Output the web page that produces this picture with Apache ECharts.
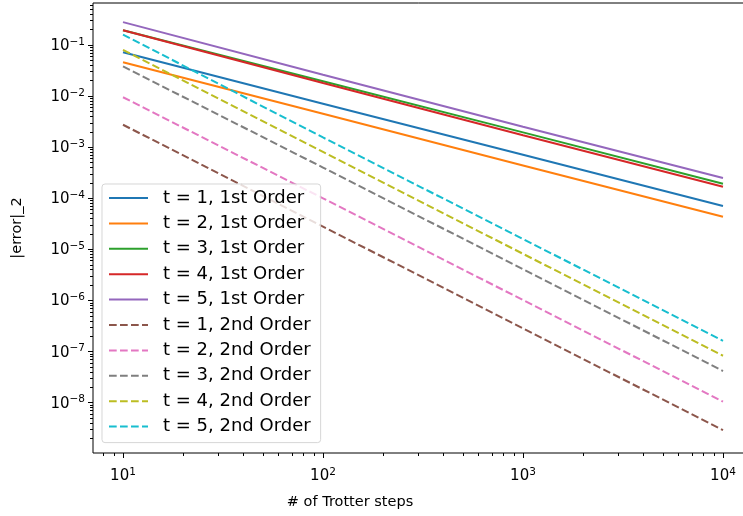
<!DOCTYPE html>
<html><head><meta charset="utf-8">
<script src="https://cdn.jsdelivr.net/npm/echarts@6/dist/echarts.min.js"></script>
<style>html,body{margin:0;padding:0;background:#fff}#c{width:743px;height:516px}</style>
</head><body><div id="c"></div>
<script>
// Trotter steps (x)
const steps = [10, 100, 1000, 10000];
// 1st order errors
const t1First = [0.072, 0.0071, 7.1e-4, 7.06e-5];
const t2First = [0.046, 0.0045, 4.4e-4, 4.37e-5];
const t3First = [0.194, 0.0195, 0.00195, 1.93e-4];
const t4First = [0.194, 0.0180, 0.00172, 1.69e-4];
const t5First = [0.280, 0.0262, 0.00252, 2.50e-4];
// 2nd order errors
const t1Second = [0.00275, 2.8e-5, 2.85e-7, 2.9e-9];
const t2Second = [0.0095, 1.0e-4, 1.02e-6, 1.05e-8];
const t3Second = [0.038, 4.0e-4, 4.1e-6, 4.17e-8];
const t4Second = [0.080, 8.1e-4, 8.2e-6, 8.3e-8];
const t5Second = [0.160, 1.55e-3, 1.6e-5, 1.63e-7];

const seriesNames = ['t = 1, 1st Order','t = 2, 1st Order','t = 3, 1st Order','t = 4, 1st Order','t = 5, 1st Order',
  't = 1, 2nd Order','t = 2, 2nd Order','t = 3, 2nd Order','t = 4, 2nd Order','t = 5, 2nd Order'];
const seriesData = [t1First,t2First,t3First,t4First,t5First,t1Second,t2Second,t3Second,t4Second,t5Second];
const colors = ['#1f77b4','#ff7f0e','#2ca02c','#d62728','#9467bd','#8c564b','#e377c2','#7f7f7f','#bcbd22','#17becf'];

// tick values
const xTicks = [10, 100, 1000, 10000];
const yTicks = [1e-8,1e-7,1e-6,1e-5,1e-4,1e-3,1e-2,1e-1];
const xMin = Math.pow(10, 0.85), xMax = Math.pow(10, 4.15);
const yMin = Math.pow(10, -8.984), yMax = Math.pow(10, -0.178);

function minorTicks(lo, hi) {
  const out = [];
  for (let e = Math.floor(Math.log10(lo)); e <= Math.ceil(Math.log10(hi)); e++) {
    for (let m = 2; m <= 9; m++) {
      const v = m * Math.pow(10, e);
      if (v >= lo && v <= hi) out.push(v);
    }
  }
  return out;
}
const xMinor = minorTicks(xMin, xMax);
const yMinor = minorTicks(yMin, yMax);

const FONT = 'DejaVu Sans';
function supLabel(v) {
  const e = Math.round(Math.log10(v));
  const s = e < 0 ? '\u2212' + Math.abs(e) : String(e);
  return '{b|10}{s|' + s + '}';
}
const richLab = {
  b: {fontSize: 15, lineHeight: 17, fontFamily: FONT, color: '#000', verticalAlign: 'bottom'},
  s: {fontSize: 10.5, lineHeight: 12, fontFamily: FONT, color: '#000', verticalAlign: 'top'}
};

const dashType = [7.7, 3.3];
const series = seriesData.map((d, i) => ({
  name: seriesNames[i],
  type: 'line',
  xAxisIndex: 0, yAxisIndex: 0,
  data: steps.map((x, j) => [x, d[j]]),
  symbol: 'none',
  color: colors[i],
  lineStyle: {width: 2, color: colors[i], type: i >= 5 ? dashType : 'solid'},
  itemStyle: {color: colors[i]},
  animation: false,
  z: 2
}));

const chart = echarts.init(document.getElementById('c'), null, {renderer: 'canvas'});
chart.setOption({
  animation: false,
  backgroundColor: '#fff',
  grid: {left: 93, top: 3, width: 660, height: 450, outerBoundsMode: 'none', containLabel: false,
         show: true, borderColor: '#000', borderWidth: 1, backgroundColor: 'transparent'},
  legend: {
    orient: 'vertical', left: 102, top: 184,
    itemWidth: 39, itemHeight: 14, itemGap: 7.4,
    padding: [5, 10, 7, 6],
    backgroundColor: 'rgba(255,255,255,0.8)',
    borderColor: 'rgba(204,204,204,0.8)', borderWidth: 1, borderRadius: 3,
    itemStyle: {opacity: 0},
    textStyle: {fontFamily: FONT, fontSize: 18, lineHeight: 18, color: '#000', padding: [0,0,0,10]},
    data: seriesNames
  },
  xAxis: [
    {type: 'log', min: xMin, max: xMax, position: 'bottom',
     name: '# of Trotter steps', nameLocation: 'middle', nameGap: 42,
     nameTextStyle: {fontFamily: FONT, fontSize: 14.5, color: '#000', padding: [0, 146, 0, 0]},
     axisLine: {show: false}, splitLine: {show: false},
     axisTick: {show: true, length: 5, customValues: xTicks, lineStyle: {color: '#000', width: 1}},
     axisLabel: {customValues: xTicks, margin: 14, formatter: supLabel, rich: richLab}},
    {type: 'log', min: xMin, max: xMax, position: 'bottom', gridIndex: 0,
     axisLine: {show: false}, splitLine: {show: false},
     axisTick: {show: true, length: 3, customValues: xMinor, lineStyle: {color: '#000', width: 1}},
     axisLabel: {show: false}}
  ],
  yAxis: [
    {type: 'log', min: yMin, max: yMax, position: 'left',
     name: '|error|_2', nameLocation: 'middle', nameGap: 68,
     nameTextStyle: {fontFamily: FONT, fontSize: 14.5, color: '#000'},
     axisLine: {show: false}, splitLine: {show: false},
     axisTick: {show: true, length: 5, customValues: yTicks, lineStyle: {color: '#000', width: 1}},
     axisLabel: {customValues: yTicks, margin: 8, formatter: supLabel, rich: richLab}},
    {type: 'log', min: yMin, max: yMax, position: 'left', gridIndex: 0,
     axisLine: {show: false}, splitLine: {show: false},
     axisTick: {show: true, length: 3, customValues: yMinor, lineStyle: {color: '#000', width: 1}},
     axisLabel: {show: false}}
  ],
  series: series
});
</script></body></html>
